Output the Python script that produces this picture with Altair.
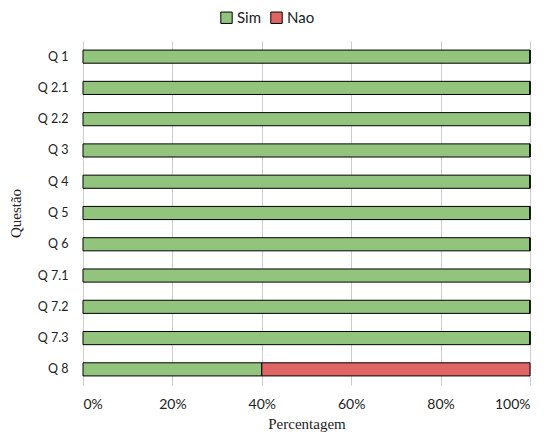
import altair as alt
import pandas as pd

questions = ["Q 1", "Q 2.1", "Q 2.2", "Q 3", "Q 4", "Q 5", "Q 6", "Q 7.1", "Q 7.2", "Q 7.3", "Q 8"]
sim = [100, 100, 100, 100, 100, 100, 100, 100, 100, 100, 40]
nao = [0, 0, 0, 0, 0, 0, 0, 0, 0, 0, 60]
series = ["Sim", "Nao"]
colors = ["#93C47D", "#E06666"]

rows = []
for q, s, n in zip(questions, sim, nao):
    rows.append({"Questão": q, "Resposta": "Sim", "ord": 0, "valor": s / 100})
    rows.append({"Questão": q, "Resposta": "Nao", "ord": 1, "valor": n / 100})
df = pd.DataFrame(rows)

label_font = "Lato"
title_font = "Liberation Serif"

chart = alt.Chart(df).mark_bar(stroke="black", strokeWidth=1).encode(
    x=alt.X("valor:Q", stack="zero",
            scale=alt.Scale(domain=[0, 1], nice=False),
            axis=alt.Axis(format="%", values=[0, 0.2, 0.4, 0.6, 0.8, 1.0],
                          title="Percentagem", grid=True, gridColor="#cccccc",
                          domain=False, ticks=False, labelPadding=12,
                          labelFont=label_font, labelFontSize=14, labelColor="#222",
                          titleFont=title_font, titleFontSize=15, titleFontWeight="normal",
                          titleColor="#222", titlePadding=5)),
    y=alt.Y("Questão:N", sort=questions,
            scale=alt.Scale(paddingInner=0.58, paddingOuter=0.29),
            axis=alt.Axis(domain=False, ticks=False, labelPadding=15,
                          labelFont=label_font, labelFontSize=12.5, labelColor="#222",
                          titleFont=title_font, titleFontSize=15, titleFontWeight="normal",
                          titleColor="#222", titlePadding=14)),
    color=alt.Color("Resposta:N", sort=series,
                    scale=alt.Scale(domain=series, range=colors),
                    legend=alt.Legend(orient="none", direction="horizontal",
                                      legendX=136, legendY=-31,
                                      title=None, symbolType="square",
                                      symbolStrokeColor="black", symbolStrokeWidth=1,
                                      symbolSize=130, labelFont=label_font,
                                      labelFontSize=15, labelColor="#222",
                                      columnPadding=6, labelOffset=3, padding=0)),
    order=alt.Order("ord:Q"),
).properties(width=447, height=344,
             padding={"left": 0, "top": 2, "right": 5, "bottom": 5}
).configure_view(stroke=None)

chart.save("out.html", embed_options={"renderer": "svg", "actions": False})
